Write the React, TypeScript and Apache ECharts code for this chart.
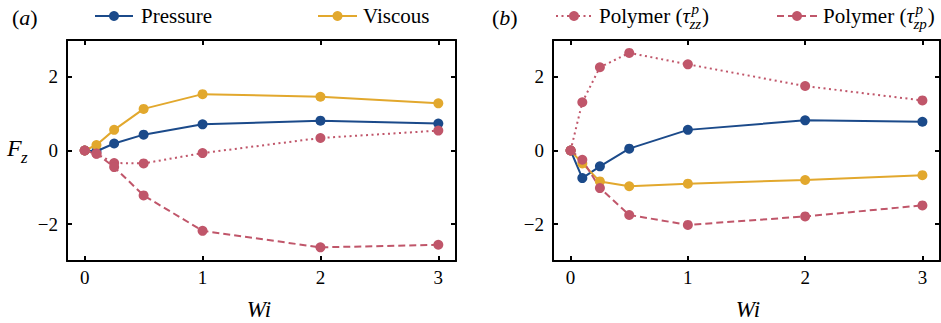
import React, { useEffect, useRef } from 'react';
import * as echarts from 'echarts';

const wi = [0, 0.1, 0.25, 0.5, 1, 2, 3];
const pressureA = [0, -0.02, 0.19, 0.43, 0.71, 0.81, 0.73];
const viscousA = [0, 0.15, 0.56, 1.13, 1.53, 1.46, 1.28];
const polyZzA = [0, -0.09, -0.34, -0.35, -0.07, 0.34, 0.54];
const polyZpA = [0, -0.08, -0.45, -1.22, -2.18, -2.63, -2.56];
const pressureB = [0, -0.75, -0.43, 0.05, 0.56, 0.82, 0.78];
const viscousB = [0, -0.35, -0.84, -0.97, -0.9, -0.8, -0.67];
const polyZzB = [0, 1.31, 2.26, 2.65, 2.34, 1.75, 1.36];
const polyZpB = [0, -0.25, -1.02, -1.75, -2.02, -1.79, -1.49];
const xTicks = [0, 1, 2, 3];
const yTicks = [-2, 0, 2];

const FONT = 'Liberation Serif';
const BLUE = '#1b4a8a';
const YELLOW = '#e2a82d';
const RED = '#c0566a';
const DOT: number[] = [2, 3.5];
const DASH: number[] = [7, 4];

function measure(text: string, size: number, italic: boolean): number {
  const c = document.createElement('canvas').getContext('2d');
  if (!c) return text.length * size * 0.5;
  c.font = `${italic ? 'italic ' : ''}${size}px "Liberation Serif"`;
  return c.measureText(text).width;
}

function txt(x: number, y: number, text: string, size: number, italic: boolean, align = 'left'): any {
  return {
    type: 'text',
    x,
    y,
    style: {
      text,
      fontFamily: FONT,
      fontSize: size,
      fontStyle: italic ? 'italic' : 'normal',
      fill: '#000',
      verticalAlign: 'middle',
      align,
    },
  };
}

function polymerLabel(x0: number, y: number, sub: string): any[] {
  const els: any[] = [];
  let x = x0;
  const base = 21;
  const small = 15;
  els.push(txt(x, y, 'Polymer (', base, false));
  x += measure('Polymer (', base, false);
  els.push(txt(x, y, 'τ', base, true));
  x += measure('τ', base, true) + 0.5;
  els.push(txt(x + 1, y - 7, 'p', small, true));
  els.push(txt(x - 1, y + 8, sub, small, true));
  x += Math.max(measure('p', small, true) + 1, measure(sub, small, true) - 1) + 1;
  els.push(txt(x, y, ')', base, false));
  return els;
}

function legendIcon(x1: number, x2: number, y: number, color: string, dash: any): any[] {
  return [
    { type: 'line', shape: { x1, y1: y, x2, y2: y }, style: { stroke: color, lineWidth: 2, lineDash: dash } },
    { type: 'circle', shape: { cx: (x1 + x2) / 2, cy: y, r: 5 }, style: { fill: color } },
  ];
}

function makeSeries(name: string, vals: number[], color: string, dash: any, gi: number) {
  return {
    name,
    type: 'line',
    xAxisIndex: gi * 2,
    yAxisIndex: gi * 2,
    data: wi.map((w, i) => [w, vals[i]]),
    symbol: 'circle',
    symbolSize: 10,
    showSymbol: true,
    itemStyle: { color },
    lineStyle: { color, width: 2, type: dash },
    emphasis: { disabled: true },
  };
}

function xAxes(gi: number) {
  const common = {
    gridIndex: gi,
    type: 'value',
    min: -0.15,
    max: 3.15,
    splitLine: { show: false },
    axisLine: { show: true, onZero: false, lineStyle: { color: '#000', width: 2 } },
    axisTick: { show: true, inside: true, length: 5, customValues: xTicks, lineStyle: { color: '#000', width: 2 } },
  };
  return [
    { ...common, position: 'bottom', axisLabel: { customValues: xTicks, fontFamily: FONT, fontSize: 19, color: '#000', margin: 7 } },
    { ...common, position: 'top', axisLabel: { show: false } },
  ];
}

function yAxes(gi: number) {
  const common = {
    gridIndex: gi,
    type: 'value',
    min: -3,
    max: 3,
    splitLine: { show: false },
    axisLine: { show: true, onZero: false, lineStyle: { color: '#000', width: 2 } },
    axisTick: { show: true, inside: true, length: 5, customValues: yTicks, lineStyle: { color: '#000', width: 2 } },
  };
  return [
    {
      ...common,
      position: 'left',
      axisLabel: {
        customValues: yTicks,
        fontFamily: FONT,
        fontSize: 19,
        color: '#000',
        margin: 9,
        formatter: (v: number) => String(v).replace('-', '\u2212'),
      },
    },
    { ...common, position: 'right', axisLabel: { show: false } },
  ];
}

export default function App() {
  const ref = useRef<HTMLDivElement>(null);
  useEffect(() => {
    if (!ref.current) return;
    const chart = echarts.init(ref.current, null, { renderer: 'svg' });
    const rich = {
      n: { fontFamily: FONT, fontSize: 22, color: '#000' },
      i: { fontFamily: FONT, fontSize: 22, fontStyle: 'italic', color: '#000' },
    };
    const graphic: any[] = [
      { type: 'text', x: 12, y: 17, style: { text: '{n|(}{i|a}{n|)}', verticalAlign: 'middle', rich } },
      { type: 'text', x: 492, y: 17, style: { text: '{n|(}{i|b}{n|)}', verticalAlign: 'middle', rich } },
      ...legendIcon(95, 133, 16, BLUE, null),
      txt(141, 16, 'Pressure', 21, false),
      ...legendIcon(318, 357, 16, YELLOW, null),
      txt(363, 16, 'Viscous', 21, false),
      ...legendIcon(556, 592, 16, RED, DOT),
      ...polymerLabel(599, 16, 'zz'),
      ...legendIcon(777, 817, 16, RED, DASH),
      ...polymerLabel(823, 16, 'zp'),
      txt(7, 148, 'F', 24, true),
      txt(21, 157, 'z', 17, true),
      txt(259, 309, 'Wi', 23, true, 'center'),
      txt(748, 309, 'Wi', 23, true, 'center'),
    ];
    chart.setOption({
      animation: false,
      backgroundColor: '#fff',
      grid: [
        { left: 67, top: 40, right: 485, bottom: 62, containLabel: false },
        { left: 553, top: 40, right: 1, bottom: 62, containLabel: false },
      ],
      xAxis: [...xAxes(0), ...xAxes(1)],
      yAxis: [...yAxes(0), ...yAxes(1)],
      series: [
        makeSeries('Pressure', pressureA, BLUE, 'solid', 0),
        makeSeries('Viscous', viscousA, YELLOW, 'solid', 0),
        makeSeries('Polymer (τzz)', polyZzA, RED, DOT, 0),
        makeSeries('Polymer (τzp)', polyZpA, RED, DASH, 0),
        makeSeries('Pressure', pressureB, BLUE, 'solid', 1),
        makeSeries('Viscous', viscousB, YELLOW, 'solid', 1),
        makeSeries('Polymer (τzz)', polyZzB, RED, DOT, 1),
        makeSeries('Polymer (τzp)', polyZpB, RED, DASH, 1),
      ],
      graphic,
    });
    return () => chart.dispose();
  }, []);
  return <div ref={ref} style={{ position: 'absolute', left: 0, top: 0, width: 941, height: 323 }} />;
}
